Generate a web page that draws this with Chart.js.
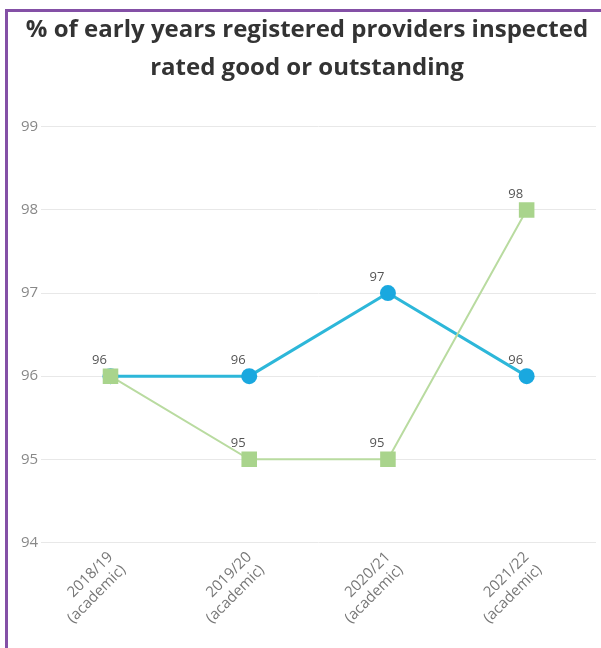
<!DOCTYPE html>
<html>
<head>
<meta charset="utf-8">
<script src="https://cdn.jsdelivr.net/npm/chart.js@4"></script>
<style>
  html, body { margin: 0; padding: 0; background: #fff; }
  #wrap { position: relative; width: 601px; height: 648px; overflow: hidden; }
  #frame { position: absolute; left: 5px; top: 9px; width: 700px; height: 700px;
           border-top: 3px solid #8450a6; border-left: 3px solid #8450a6; }
  canvas { position: absolute; left: 0; top: 0; }
</style>
</head>
<body>
<div id="wrap">
  <div id="frame"></div>
  <canvas id="c" width="601" height="648"></canvas>
</div>
<script>
const titleLines = ['% of early years registered providers inspected', 'rated good or outstanding'];
const categories = [['2018/19', '(academic)'], ['2019/20', '(academic)'], ['2020/21', '(academic)'], ['2021/22', '(academic)']];
const blueSeries = [96, 96, 97, 96];
const greenSeries = [96, 95, 95, 98];
const yTicks = [94, 95, 96, 97, 98, 99];

const valueLabels = {
  id: 'valueLabels',
  afterDatasetsDraw(chart) {
    const ctx = chart.ctx;
    ctx.save();
    ctx.font = '13px "Open Sans", sans-serif';
    ctx.fillStyle = '#555';
    ctx.textAlign = 'center';
    ctx.textBaseline = 'middle';
    const drawn = new Set();
    chart.data.datasets.forEach((ds, i) => {
      const meta = chart.getDatasetMeta(i);
      meta.data.forEach((pt, j) => {
        const key = Math.round(pt.x) + ',' + Math.round(pt.y);
        if (drawn.has(key)) return;
        drawn.add(key);
        ctx.fillText(String(ds.data[j]), pt.x - 11, pt.y - 16);
      });
    });
    ctx.restore();
  }
};

new Chart(document.getElementById('c'), {
  type: 'line',
  data: {
    labels: categories,
    datasets: [
      {
        label: 'Green',
        data: greenSeries,
        borderColor: '#b9dba0',
        backgroundColor: '#a9d48c',
        borderWidth: 2,
        pointStyle: 'rect',
        pointRadius: 11,
        pointBorderWidth: 0,
        tension: 0
      },
      {
        label: 'Blue',
        data: blueSeries,
        borderColor: '#2db7d9',
        backgroundColor: '#1aa8df',
        borderWidth: 3,
        pointStyle: 'circle',
        pointRadius: 8,
        pointBorderWidth: 0,
        tension: 0
      }
    ]
  },
  options: {
    responsive: false,
    animation: false,
    devicePixelRatio: 1,
    layout: { autoPadding: false, padding: { left: 18, right: 5, top: 11, bottom: 15 } },
    plugins: {
      legend: { display: false },
      tooltip: { enabled: false },
      title: {
        display: true,
        text: titleLines,
        color: '#333',
        font: { family: '"Open Sans", sans-serif', size: 24, weight: 'bold', lineHeight: 1.6 },
        padding: { top: 0, bottom: 39 }
      }
    },
    scales: {
      x: {
        offset: true,
        grid: { display: false, drawTicks: false },
        border: { display: false },
        ticks: {
          color: '#777',
          font: { family: '"Open Sans", sans-serif', size: 15 },
          maxRotation: 45, minRotation: 45,
          padding: 6
        }
      },
      y: {
        min: 94, max: 99,
        afterBuildTicks(axis) { axis.ticks = yTicks.map(v => ({ value: v })); },
        grid: { color: '#e8e8e8', drawTicks: false },
        border: { display: false },
        ticks: {
          color: '#888',
          font: { family: '"Open Sans", sans-serif', size: 15 },
          padding: 3
        }
      }
    }
  },
  plugins: [valueLabels]
});
</script>
</body>
</html>
